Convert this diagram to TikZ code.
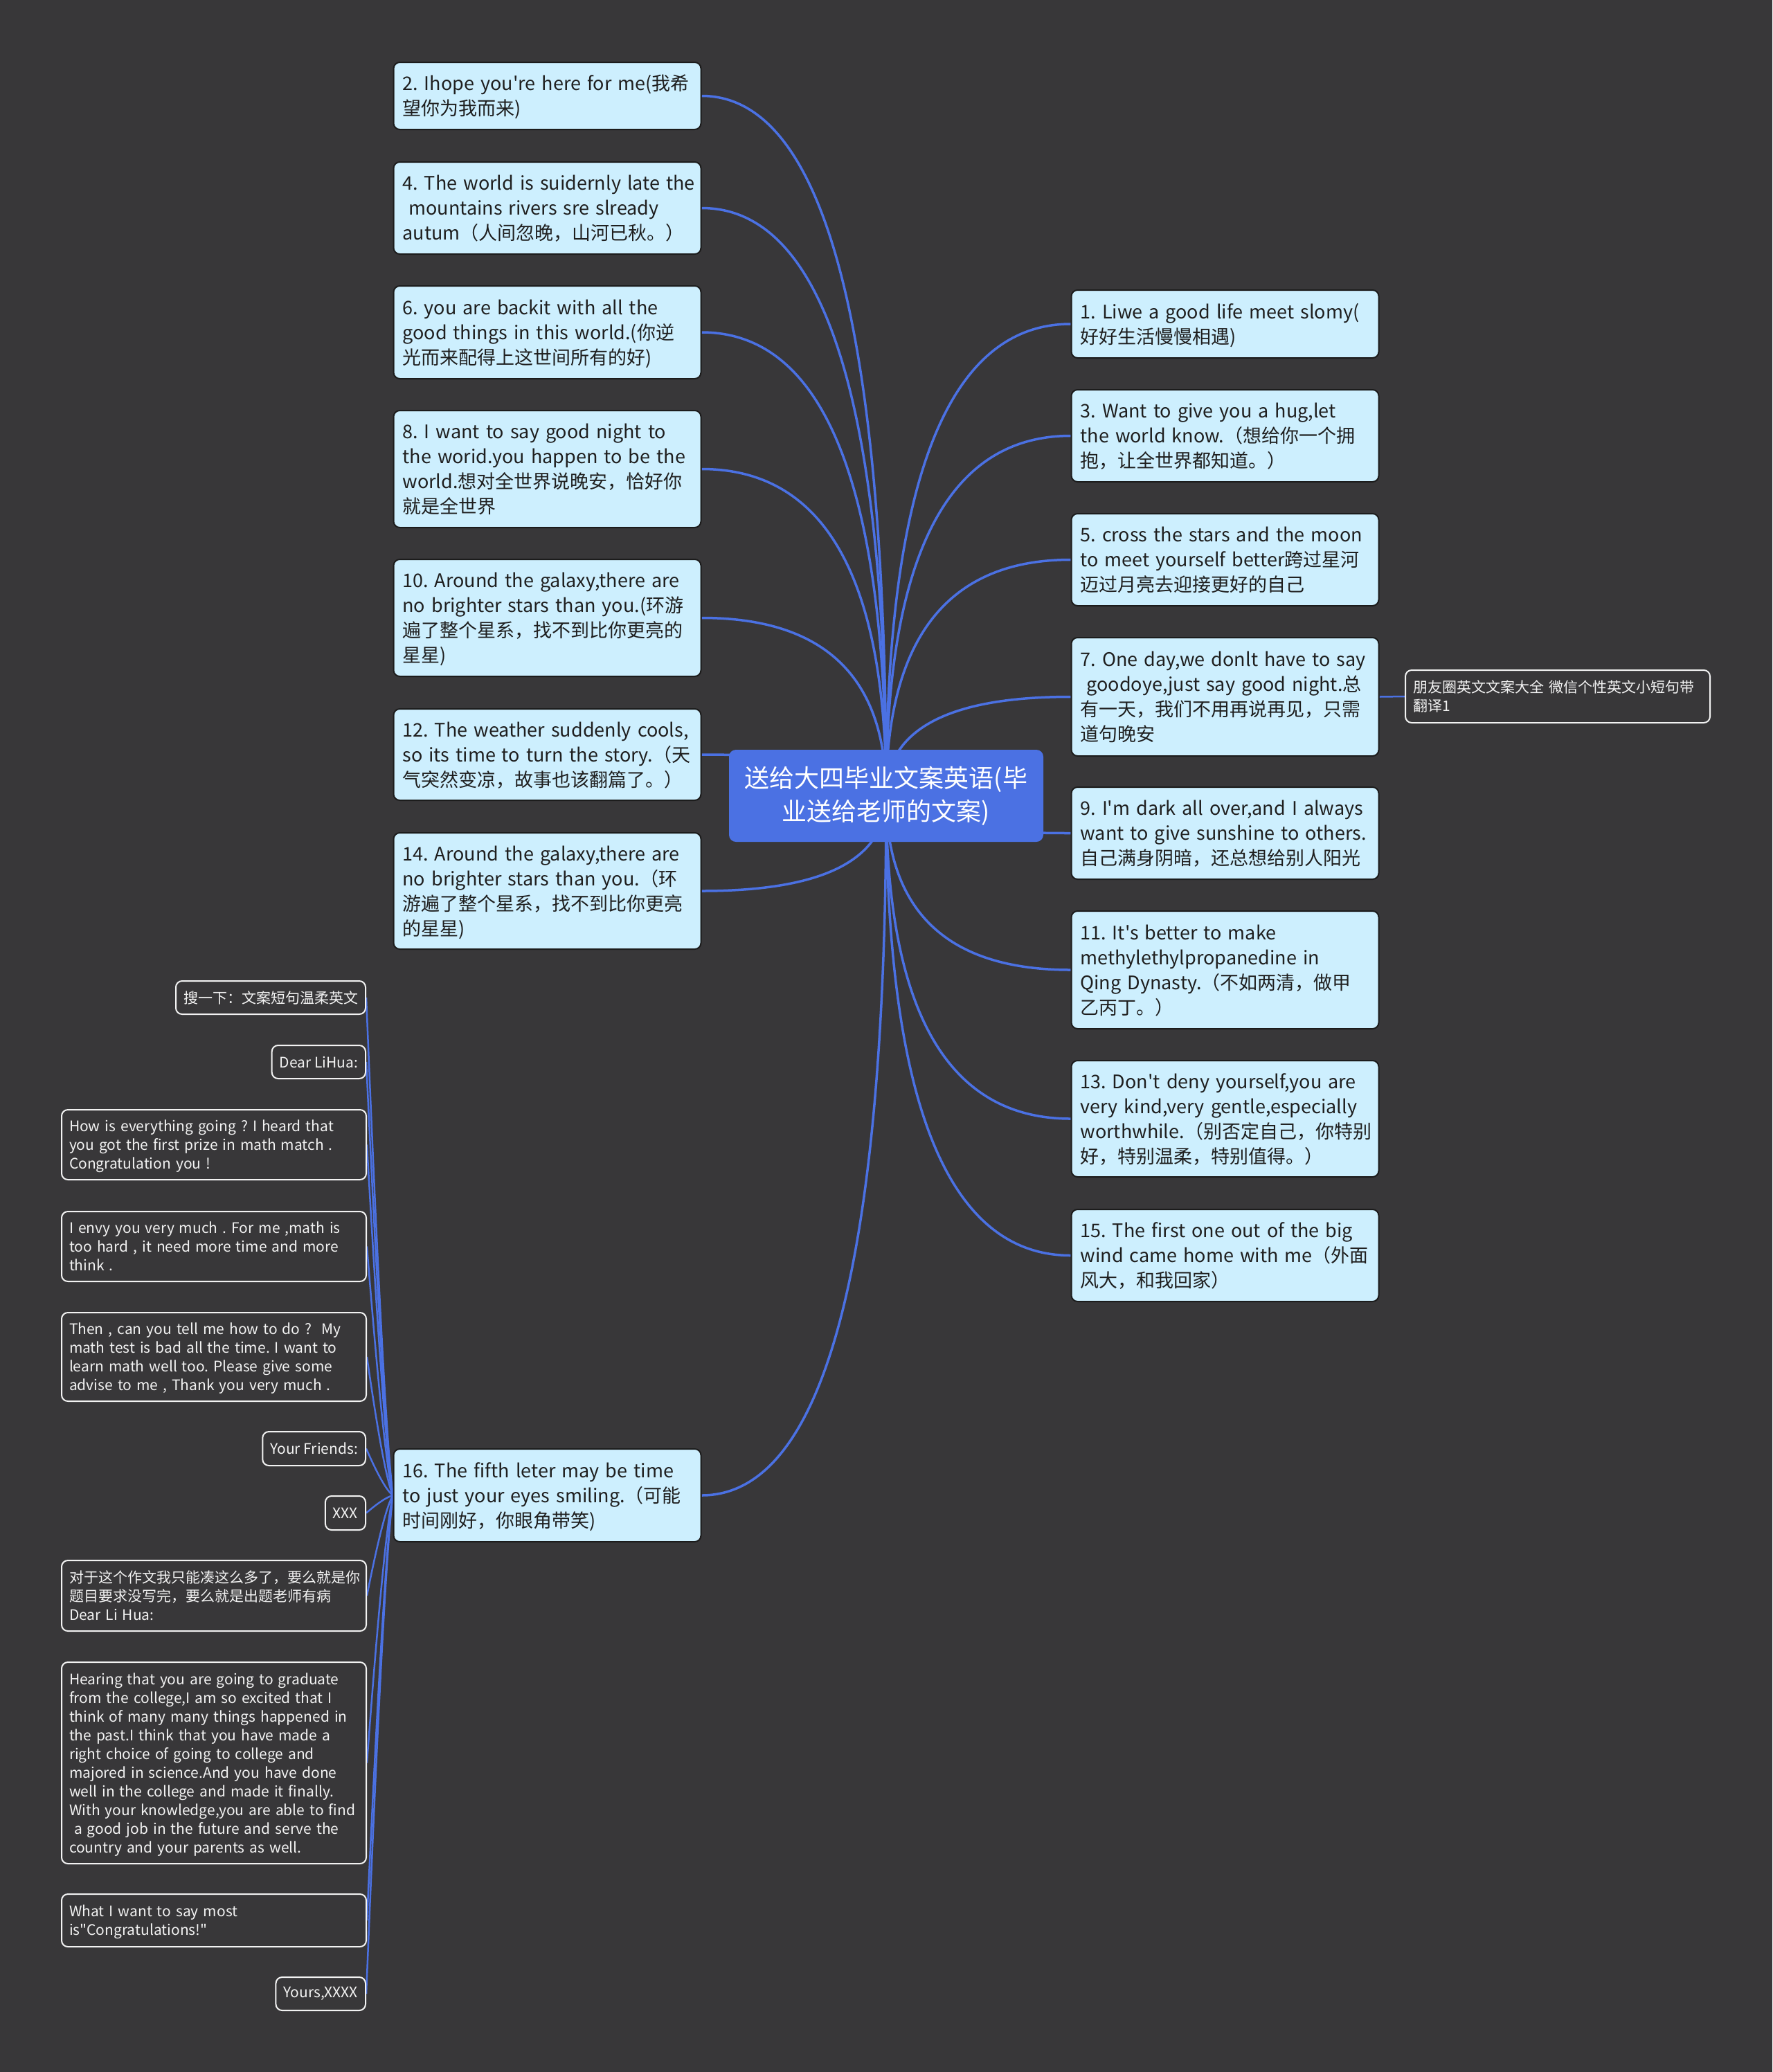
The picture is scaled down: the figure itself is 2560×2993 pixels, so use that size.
\documentclass[tikz,border=0pt]{standalone}
\usepackage{fontspec}
\newfontfamily\cjkmain{Noto Sans CJK SC}
\usetikzlibrary{calc}
\pgfdeclarelayer{background}
\pgfsetlayers{background,main}
\definecolor{bgc}{RGB}{56,55,57}
\definecolor{mblue}{RGB}{75,113,227}
\definecolor{lblue}{RGB}{205,239,254}
\definecolor{lborder}{RGB}{28,28,28}
\definecolor{wtxt}{RGB}{242,242,242}
\newcommand\tabl[1]{\raisebox{-3pt}[\height][\depth]{\begin{tabular}{@{}l@{}}#1\end{tabular}}}
\tikzset{
  bigbox/.style={draw=lborder, line width=2pt, fill=lblue, rounded corners=9pt,
    text=black!88, font=\cjkmain\frenchspacing\fontsize{27}{36}\selectfont, inner xsep=13pt, inner ysep=0pt,
    text width=418pt, align=left, minimum height=#1},
  smallbox/.style={draw=wtxt, line width=2pt, fill=bgc, rounded corners=9pt,
    text=wtxt, font=\cjkmain\frenchspacing\fontsize{21}{27}\selectfont, inner xsep=11pt, inner ysep=0pt,
    minimum height=#1},
  widesmall/.style={smallbox=#1, text width=418pt, align=left},
  rootbox/.style={draw=none, fill=mblue, rounded corners=10pt, text=white,
    font=\cjkmain\fontsize{36}{48}\selectfont, align=center, minimum width=454pt,
    minimum height=133pt, inner sep=0pt},
  conn/.style={draw=mblue, line width=3.5pt},
  subconn/.style={draw=mblue, line width=2.5pt}
}
\newcommand\mmlink[2]{\draw[conn] (#1) .. controls ($(#1)!0.6667!(#1 |- #2)$) and ($(#2)!0.6667!(#1 |- #2)$) .. (#2);}
\newcommand\sublink[2]{\draw[subconn] let \p1=(#1), \p2=(#2),
  \p3=({\x2+0.65*(\x1-\x2)},{\y1+0.15*(\y2-\y1)}) in
  (\p1) .. controls ({\x1+0.6667*(\x3-\x1)},{\y1+0.6667*(\y3-\y1)}) and ({\x2+0.6667*(\x3-\x2)},{\y2+0.6667*(\y3-\y2)}) .. (\p2);}
\begin{document}
\frenchspacing
\begin{tikzpicture}[x=1pt,y=-1pt]
\useasboundingbox (0,0) rectangle (2560,2993);
% root
\node[rootbox] (root) at (1280,1149.5) {送给大四毕业文案英语(毕\\业送给老师的文案)};
% left main nodes
\node[bigbox=97pt] (n2) at (790.5,138.5) {\tabl{2. Ihope you're here for me(我希\\望你为我而来)}};
\node[bigbox=133pt] (n4) at (790.5,300.5) {\tabl{4. The world is suidernly late the\\\ mountains rivers sre slready\\autum（人间忽晚，山河已秋。）}};
\node[bigbox=134pt] (n6) at (790.5,480) {\tabl{6. you are backit with all the\\good things in this world.(你逆\\光而来配得上这世间所有的好)}};
\node[bigbox=169pt] (n8) at (790.5,677.5) {\tabl{8. I want to say good night to\\the worid.you happen to be the\\world.想对全世界说晚安，恰好你\\就是全世界}};
\node[bigbox=169pt] (n10) at (790.5,892.5) {\tabl{10. Around the galaxy,there are\\no brighter stars than you.(环游\\遍了整个星系，找不到比你更亮的\\星星)}};
\node[bigbox=132pt] (n12) at (790.5,1090) {\tabl{12. The weather suddenly cools,\\so its time to turn the story.（天\\气突然变凉，故事也该翻篇了。）}};
\node[bigbox=168pt] (n14) at (790.5,1287) {\tabl{14. Around the galaxy,there are\\no brighter stars than you.（环\\游遍了整个星系，找不到比你更亮\\的星星)}};
\node[bigbox=134pt] (n16) at (790.5,2160) {\tabl{16. The fifth leter may be time\\to just your eyes smiling.（可能\\时间刚好，你眼角带笑)}};
% right main nodes
\node[bigbox=98pt] (n1) at (1769.5,468) {\tabl{1. Liwe a good life meet slomy(\\好好生活慢慢相遇)}};
\node[bigbox=133pt] (n3) at (1769.5,629.5) {\tabl{3. Want to give you a hug,let\\the world know.（想给你一个拥\\抱，让全世界都知道。）}};
\node[bigbox=133pt] (n5) at (1769.5,808.5) {\tabl{5. cross the stars and the moon\\to meet yourself better跨过星河\\迈过月亮去迎接更好的自己}};
\node[bigbox=171pt] (n7) at (1769.5,1006.5) {\tabl{7. One day,we donlt have to say\\\ goodoye,just say good night.总\\有一天，我们不用再说再见，只需\\道句晚安}};
\node[bigbox=133pt] (n9) at (1769.5,1203.5) {\tabl{9. I'm dark all over,and I always\\want to give sunshine to others.\\自己满身阴暗，还总想给别人阳光}};
\node[bigbox=170pt] (n11) at (1769.5,1401) {\tabl{11. It's better to make\\methylethylpropanedine in\\Qing Dynasty.（不如两清，做甲\\乙丙丁。）}};
\node[bigbox=168pt] (n13) at (1769.5,1616) {\tabl{13. Don't deny yourself,you are\\very kind,very gentle,especially\\worthwhile.（别否定自己，你特别\\好，特别温柔，特别值得。）}};
\node[bigbox=133pt] (n15) at (1769.5,1813.5) {\tabl{15. The first one out of the big\\wind came home with me（外面\\风大，和我回家）}};
% side node
\node[widesmall=76pt] (side) at (2250,1006) {\tabl{朋友圈英文文案大全 微信个性英文小短句带\\翻译1}};
% small left nodes
\node[smallbox=48pt, anchor=east] (sa) at (529,1441) {搜一下：文案短句温柔英文};
\node[smallbox=48pt, anchor=east] (sb) at (529,1534) {Dear LiHua:};
\node[widesmall=101pt] (sc) at (309,1653.5) {\tabl{How is everything going ? I heard that\\you got the first prize in math match .\\Congratulation you !}};
\node[widesmall=101pt] (sd) at (309,1800.5) {\tabl{I envy you very much . For me ,math is\\too hard , it need more time and more\\think .}};
\node[widesmall=128pt] (se) at (309,1960) {\tabl{Then , can you tell me how to do ?~~My\\math test is bad all the time. I want to\\learn math well too. Please give some\\advise to me , Thank you very much .}};
\node[smallbox=49pt, anchor=east] (sf) at (529,2092.5) {Your Friends:};
\node[smallbox=49pt, anchor=east] (sg) at (529,2185.5) {XXX};
\node[widesmall=102pt] (sh) at (309,2305) {\tabl{对于这个作文我只能凑这么多了，要么就是你\\题目要求没写完，要么就是出题老师有病\\Dear Li Hua:}};
\node[widesmall=291pt] (si) at (309,2546.5) {\tabl{Hearing that you are going to graduate\\from the college,I am so excited that I\\think of many many things happened in\\the past.I think that you have made a\\right choice of going to college and\\majored in science.And you have done\\well in the college and made it finally.\\With your knowledge,you are able to find\\\ a good job in the future and serve the\\country and your parents as well.}};
\node[widesmall=76pt] (sj) at (309,2774) {\tabl{What I want to say most\\is"Congratulations!"}};
\node[smallbox=48pt, anchor=east] (sk) at (529,2880) {Yours,XXXX};
\begin{pgfonlayer}{background}
\fill[bgc] (0,0) rectangle (2560,2993);
\mmlink{root.center}{n2.east}
\mmlink{root.center}{n4.east}
\mmlink{root.center}{n6.east}
\mmlink{root.center}{n8.east}
\mmlink{root.center}{n10.east}
\mmlink{root.center}{n12.east}
\mmlink{root.center}{n14.east}
\mmlink{root.center}{n16.east}
\mmlink{root.center}{n1.west}
\mmlink{root.center}{n3.west}
\mmlink{root.center}{n5.west}
\mmlink{root.center}{n7.west}
\mmlink{root.center}{n9.west}
\mmlink{root.center}{n11.west}
\mmlink{root.center}{n13.west}
\mmlink{root.center}{n15.west}
\draw[subconn] (n7.east) -- (side.west);
\sublink{n16.west}{sa.east}
\sublink{n16.west}{sb.east}
\sublink{n16.west}{sc.east}
\sublink{n16.west}{sd.east}
\sublink{n16.west}{se.east}
\sublink{n16.west}{sf.east}
\sublink{n16.west}{sg.east}
\sublink{n16.west}{sh.east}
\sublink{n16.west}{si.east}
\sublink{n16.west}{sj.east}
\sublink{n16.west}{sk.east}
\end{pgfonlayer}
\end{tikzpicture}
\end{document}
